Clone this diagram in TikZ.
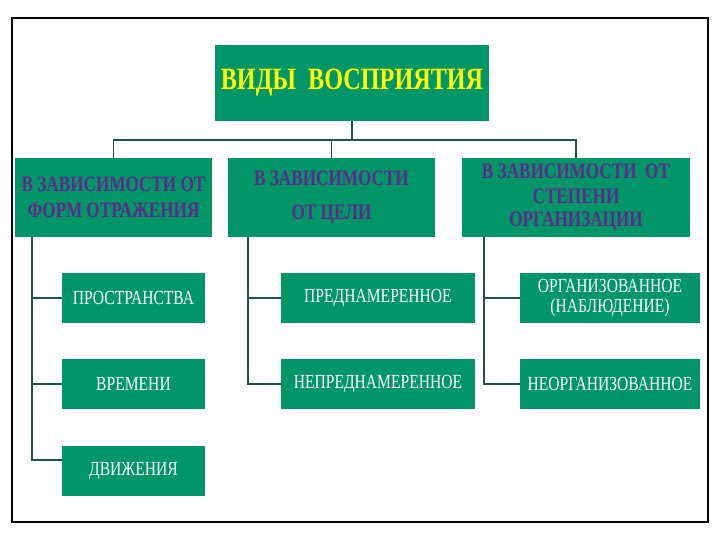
\documentclass[tikz,border=0pt]{standalone}
\usepackage{fontspec}
\setmainfont{Liberation Serif}
\newfontfamily\boxfont[FakeStretch=0.78]{Liberation Serif}
\usetikzlibrary{positioning}

\definecolor{boxgreen}{RGB}{0,150,104}
\definecolor{linkgreen}{RGB}{30,85,65}
\definecolor{headpurple}{RGB}{96,42,140}
\definecolor{headyellow}{RGB}{255,255,0}

\begin{document}
\begin{tikzpicture}[
  x=1pt, y=-1pt,
  box/.style={fill=boxgreen, draw=none, inner sep=2pt, align=center},
  title box/.style={box, minimum width=274pt, minimum height=76pt, text=headyellow,
    font=\boxfont\bfseries\fontsize{31}{37}\selectfont},
  group box/.style={box, minimum height=78pt, text=headpurple,
    font=\boxfont\bfseries\fontsize{22}{26}\selectfont},
  item box/.style={box, minimum height=50pt, text=white,
    font=\boxfont\fontsize{20}{22}\selectfont},
  link/.style={draw=linkgreen, line width=1.6pt},
  frame/.style={draw=black, line width=2.2pt}
]
  \useasboundingbox (0,0) rectangle (720,540);
  \draw[frame] (12,18) rectangle (708,522);

  % top and the three groups
  \node[title box] (vidy) at (352,83) {ВИДЫ~~ВОСПРИЯТИЯ};
  \node[group box, minimum width=197pt] (formy) at (113.5,197.5) {В ЗАВИСИМОСТИ ОТ\\ФОРМ ОТРАЖЕНИЯ};
  \node[group box, minimum width=207pt] (cel) at (331.5,197.5) {В ЗАВИСИМОСТИ\\[8pt]ОТ ЦЕЛИ};
  \node[group box, minimum width=228pt] (stepen) at (576,197.5) {В ЗАВИСИМОСТИ~~ОТ\\[-1pt]СТЕПЕНИ\\[-3pt]ОРГАНИЗАЦИИ};

  % items
  \node[item box, minimum width=143pt] (prostr) at (133.5,298) {ПРОСТРАНСТВА};
  \node[item box, minimum width=143pt] (vrem) at (133.5,384) {ВРЕМЕНИ};
  \node[item box, minimum width=143pt] (dvizh) at (133.5,471) {ДВИЖЕНИЯ};
  \node[item box, minimum width=194pt] (predn) at (378,298) {ПРЕДНАМЕРЕННОЕ};
  \node[item box, minimum width=194pt] (nepredn) at (378,384) {НЕПРЕДНАМЕРЕННОЕ};
  \node[item box, minimum width=180pt] (org) at (610,298) {ОРГАНИЗОВАННОЕ\\[-2pt](НАБЛЮДЕНИЕ)};
  \node[item box, minimum width=180pt] (neorg) at (610,384) {НЕОРГАНИЗОВАННОЕ};

  % connectors
  \draw[link] (vidy.south) -- ++(0,19) coordinate (bus);
  \draw[link] (formy.north) |- (bus) -| (stepen.north);
  \draw[link] (cel.north) -- (cel.north |- bus);

  \coordinate (spineL) at ([xshift=17pt]formy.south west);
  \coordinate (spineM) at ([xshift=20pt]cel.south west);
  \coordinate (spineR) at ([xshift=22pt]stepen.south west);
  \draw[link] (spineL) |- (prostr.west);
  \draw[link] (spineL) |- (vrem.west);
  \draw[link] (spineL) |- ([yshift=11pt]dvizh.west);
  \draw[link] (spineM) |- (predn.west);
  \draw[link] (spineM) |- (nepredn.west);
  \draw[link] (spineR) |- (org.west);
  \draw[link] (spineR) |- (neorg.west);
\end{tikzpicture}
\end{document}
